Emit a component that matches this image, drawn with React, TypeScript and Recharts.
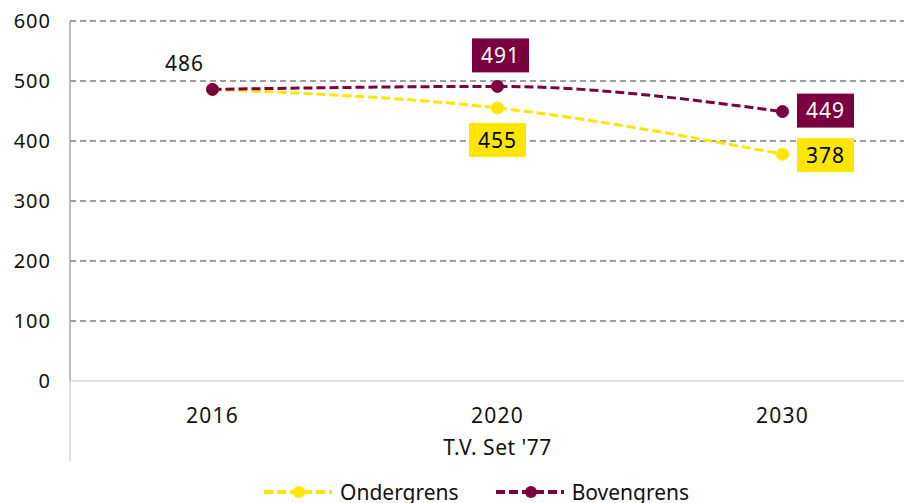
import { LineChart, Line, XAxis, YAxis, CartesianGrid, LabelList } from "recharts";

const years = ["2016", "2020", "2030"];
const ondergrens = [486, 455, 378];
const bovengrens = [486, 491, 449];
const yTicks = [0, 100, 200, 300, 400, 500, 600];

const data = years.map((year, i) => ({
  year,
  ondergrens: ondergrens[i],
  bovengrens: bovengrens[i],
}));

const YELLOW = "#ffe600";
const MAROON = "#7a003f";
const FONT = "'Noto Sans', sans-serif";

const CHART_W = 917;
const CHART_H = 470;
const Y_AXIS_W = 62;
const PLOT_W = CHART_W - Y_AXIS_W;
const HALF_BAND = PLOT_W / 6;

// where each value label sits relative to its point
type Spot = { kind: "box" | "text" | "none"; dx: number; dy: number };
const onderSpots: Spot[] = [
  { kind: "none", dx: 0, dy: 0 },
  { kind: "box", dx: 0, dy: 32 },
  { kind: "box", dx: 43, dy: 1 },
];
const bovenSpots: Spot[] = [
  { kind: "text", dx: -28, dy: -26 },
  { kind: "box", dx: 3, dy: -31 },
  { kind: "box", dx: 43, dy: -1 },
];

function makeLabel(spots: Spot[], fill: string, textColor: string) {
  return (props: any) => {
    const { value, index } = props;
    const x = props.x ?? props.viewBox?.x;
    const y = props.y ?? props.viewBox?.y;
    const s = spots[index];
    if (!s || s.kind === "none" || x == null || y == null) return null;
    const cx = x + s.dx;
    const cy = y + s.dy;
    return (
      <g>
        {s.kind === "box" && (
          <rect x={cx - 28.5} y={cy - 17} width={57} height={34} fill={fill} />
        )}
        <text
          x={cx}
          y={cy}
          dy="0.36em"
          textAnchor="middle"
          fontSize={21}
          fontFamily={FONT}
          letterSpacing={1}
          fill={s.kind === "box" ? textColor : "#111"}
        >
          {value}
        </text>
      </g>
    );
  };
}

const XTick = (props: any) => {
  const { x, y, payload } = props;
  return (
    <text
      x={x}
      y={y + 34}
      textAnchor="middle"
      fontSize={21}
      fontFamily={FONT}
      letterSpacing={1.2}
      fill="#111"
    >
      {payload.value}
    </text>
  );
};

const AxisTitle = (props: any) => {
  const { x, y, width } = props.viewBox;
  return (
    <g>
      <line x1={x} y1={y} x2={x} y2={y + 80} stroke="#d9d9d9" strokeWidth={1.5} />
      <text
        x={x + width / 2}
        y={y + 74}
        textAnchor="middle"
        fontSize={21}
        fontFamily={FONT}
        letterSpacing={0.5}
        fill="#111"
      >
        T.V. Set '77
      </text>
    </g>
  );
};

function LegendItem({ color, label }: { color: string; label: string }) {
  return (
    <div style={{ display: "flex", alignItems: "center", marginRight: 36 }}>
      <svg width={70} height={14}>
        <line x1={1} y1={7} x2={69} y2={7} stroke={color} strokeWidth={4} strokeDasharray="9 4" />
        <circle cx={36} cy={7} r={6} fill={color} />
      </svg>
      <span style={{ marginLeft: 7, fontSize: 21, color: "#111" }}>{label}</span>
    </div>
  );
}

export default function App() {
  return (
    <div style={{ width: 904, height: 495, overflow: "hidden", fontFamily: FONT }}>
      <LineChart
        width={CHART_W}
        height={CHART_H}
        data={data}
        margin={{ top: 13, right: 0, left: 0, bottom: 0 }}
      >
        <CartesianGrid
          vertical={false}
          horizontalValues={yTicks.filter((v) => v > 0)}
          stroke="#7f7f7f"
          strokeWidth={1.3}
          strokeDasharray="6 4"
        />
        <XAxis
          dataKey="year"
          interval={0}
          tickLine={false}
          axisLine={{ stroke: "#d9d9d9", strokeWidth: 1.5 }}
          padding={{ left: HALF_BAND, right: HALF_BAND }}
          height={97}
          tick={<XTick />}
          label={{ content: <AxisTitle /> }}
        />
        <YAxis
          width={Y_AXIS_W}
          domain={[0, 600]}
          ticks={yTicks}
          interval={0}
          tickLine={false}
          tickMargin={13}
          axisLine={{ stroke: "#a6a6a6", strokeWidth: 1.5 }}
          tick={{ fontSize: 20, fill: "#111", fontFamily: FONT, letterSpacing: 1 }}
        />
        <Line
          type="monotone"
          dataKey="ondergrens"
          name="Ondergrens"
          stroke={YELLOW}
          strokeWidth={3}
          strokeDasharray="9 4"
          dot={{ r: 6, fill: YELLOW, stroke: YELLOW, strokeWidth: 1, strokeDasharray: "" }}
          activeDot={false}
          isAnimationActive={false}
        >
          <LabelList dataKey="ondergrens" content={makeLabel(onderSpots, YELLOW, "#000")} />
        </Line>
        <Line
          type="monotone"
          dataKey="bovengrens"
          name="Bovengrens"
          stroke={MAROON}
          strokeWidth={3}
          strokeDasharray="9 4"
          dot={{ r: 6, fill: MAROON, stroke: MAROON, strokeWidth: 1, strokeDasharray: "" }}
          activeDot={false}
          isAnimationActive={false}
        >
          <LabelList dataKey="bovengrens" content={makeLabel(bovenSpots, MAROON, "#fff")} />
        </Line>
      </LineChart>
      <div style={{ display: "flex", marginTop: 0, paddingLeft: 255, height: 28, alignItems: "center" }}>
        <LegendItem color={YELLOW} label="Ondergrens" />
        <LegendItem color={MAROON} label="Bovengrens" />
      </div>
    </div>
  );
}
